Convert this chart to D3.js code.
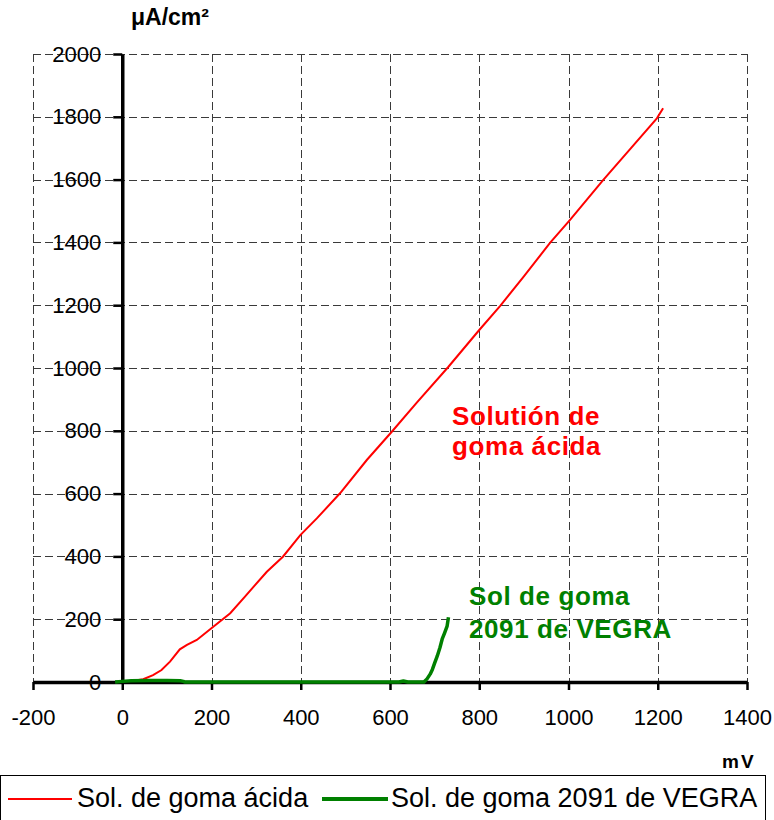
<!DOCTYPE html>
<html>
<head>
<meta charset="utf-8">
<script src="https://cdn.jsdelivr.net/npm/d3@7"></script>
<style>
  html, body { margin: 0; padding: 0; background: #fff; }
  svg { display: block; font-family: "Liberation Sans", Arial, sans-serif; }
</style>
</head>
<body>
<svg id="chart" width="774" height="820"></svg>
<script>
// ---- data ----
const xTicks = [-200, 0, 200, 400, 600, 800, 1000, 1200, 1400];
const yTicks = [0, 200, 400, 600, 800, 1000, 1200, 1400, 1600, 1800, 2000];

const acidaMV = [25, 47, 69, 88, 107, 129, 145, 167, 204, 242, 275, 324, 360, 399, 436, 488, 548, 604, 660, 731, 800, 847, 900, 959, 1003, 1078, 1140, 1198, 1212];
const acidaUA = [4, 9, 22, 38, 65, 104, 118, 134, 176, 219, 272, 351, 399, 468, 521, 601, 707, 797, 890, 1004, 1121, 1198, 1292, 1399, 1471, 1599, 1700, 1795, 1827];

const vegraMV = [-16, 0, 20, 60, 100, 130, 137, 140, 620, 630, 640, 676, 683, 690, 695, 700, 706, 712, 717, 722, 728, 731];
const vegraUA = [0, 2, 4, 5, 5, 4, 2, 0, 0, 3, 0, 0, 10, 25, 40, 60, 83, 110, 137, 155, 178, 206];

const seriesNames = ["Sol. de goma ácida", "Sol. de goma 2091 de VEGRA"];
const seriesColors = ["#ff0000", "#008000"];

// ---- scales ----
const svg = d3.select("#chart");
const x = d3.scaleLinear().domain([-200, 1400]).range([33, 747]);
const y = d3.scaleLinear().domain([0, 2000]).range([682, 54]);

// ---- grid ----
const grid = svg.append("g").attr("fill", "none").attr("stroke", "#3a3a3a").attr("stroke-width", 1).attr("stroke-dasharray", "8,4");
grid.selectAll("line.h").data(yTicks.filter(d => d > 0)).join("line")
  .attr("x1", x(-200)).attr("x2", x(1400))
  .attr("y1", d => Math.round(y(d)) + 0.5).attr("y2", d => Math.round(y(d)) + 0.5);
grid.selectAll("line.v").data(xTicks.filter(d => d !== 0)).join("line")
  .attr("x1", d => Math.round(x(d)) + 0.5).attr("x2", d => Math.round(x(d)) + 0.5)
  .attr("y1", y(2000)).attr("y2", y(0));

// ---- axes ----
const fmt = d => String(d);
const yAxis = svg.append("g").attr("transform", `translate(${x(0)},0)`)
  .call(d3.axisLeft(y).tickValues(yTicks).tickSize(9).tickSizeOuter(0).tickPadding(12).tickFormat(fmt));
const xAxis = svg.append("g").attr("transform", `translate(0,${y(0)})`)
  .call(d3.axisBottom(x).tickValues(xTicks).tickSize(8).tickSizeOuter(0).tickPadding(19).tickFormat(fmt));
[yAxis, xAxis].forEach(a => {
  a.select(".domain").attr("stroke", "#000").attr("stroke-width", 3.5);
  a.selectAll(".tick line").attr("stroke", "#000").attr("stroke-width", 2.5);
  a.selectAll(".tick text").attr("fill", "#000").style("font-size", "22px")
    .style("font-family", '"Liberation Sans", Arial, sans-serif');
});

// ---- series ----
const line = d3.line().x(d => x(d[0])).y(d => y(d[1]));
const acida = acidaMV.map((v, i) => [v, acidaUA[i]]);
const vegra = vegraMV.map((v, i) => [v, vegraUA[i]]);
svg.append("path").datum(acida).attr("d", line).attr("fill", "none")
  .attr("stroke", seriesColors[0]).attr("stroke-width", 2);
svg.append("path").datum(vegra).attr("d", line).attr("fill", "none")
  .attr("stroke", seriesColors[1]).attr("stroke-width", 3.5).attr("stroke-linejoin", "round");

// ---- axis titles ----
svg.append("text").attr("x", 131).attr("y", 25).text("μA/cm²")
  .style("font-size", "23px").style("font-weight", "bold");
svg.append("text").attr("x", 722).attr("y", 768).text("mV")
  .style("font-size", "19px").style("font-weight", "bold").style("letter-spacing", "2px");

// ---- annotations ----
const ann = [
  { t: "Solutión de", x: 452, y: 425, c: seriesColors[0] },
  { t: "goma ácida", x: 452, y: 455, c: seriesColors[0] },
  { t: "Sol de goma", x: 469, y: 605, c: seriesColors[1] },
  { t: "2091 de VEGRA", x: 469, y: 638, c: seriesColors[1] }
];
svg.selectAll("text.ann").data(ann).join("text").attr("class", "ann")
  .attr("x", d => d.x).attr("y", d => d.y).attr("fill", d => d.c).text(d => d.t)
  .style("font-size", "26px").style("font-weight", "bold").style("letter-spacing", "0.6px");

// ---- legend ----
const lg = svg.append("g");
lg.append("rect").attr("x", 0.5).attr("y", 775.5).attr("width", 765).attr("height", 60)
  .attr("fill", "#fff").attr("stroke", "#000").attr("stroke-width", 1);
const legendItems = [
  { name: seriesNames[0], color: seriesColors[0], w: 2, x0: 8, x1: 72, tx: 77 },
  { name: seriesNames[1], color: seriesColors[1], w: 4, x0: 322, x1: 388, tx: 391 }
];
legendItems.forEach(d => {
  lg.append("line").attr("x1", d.x0).attr("x2", d.x1).attr("y1", 799).attr("y2", 799)
    .attr("stroke", d.color).attr("stroke-width", d.w);
  lg.append("text").attr("x", d.tx).attr("y", 807).text(d.name)
    .style("font-size", "27px").attr("fill", "#000");
});
</script>
</body>
</html>
